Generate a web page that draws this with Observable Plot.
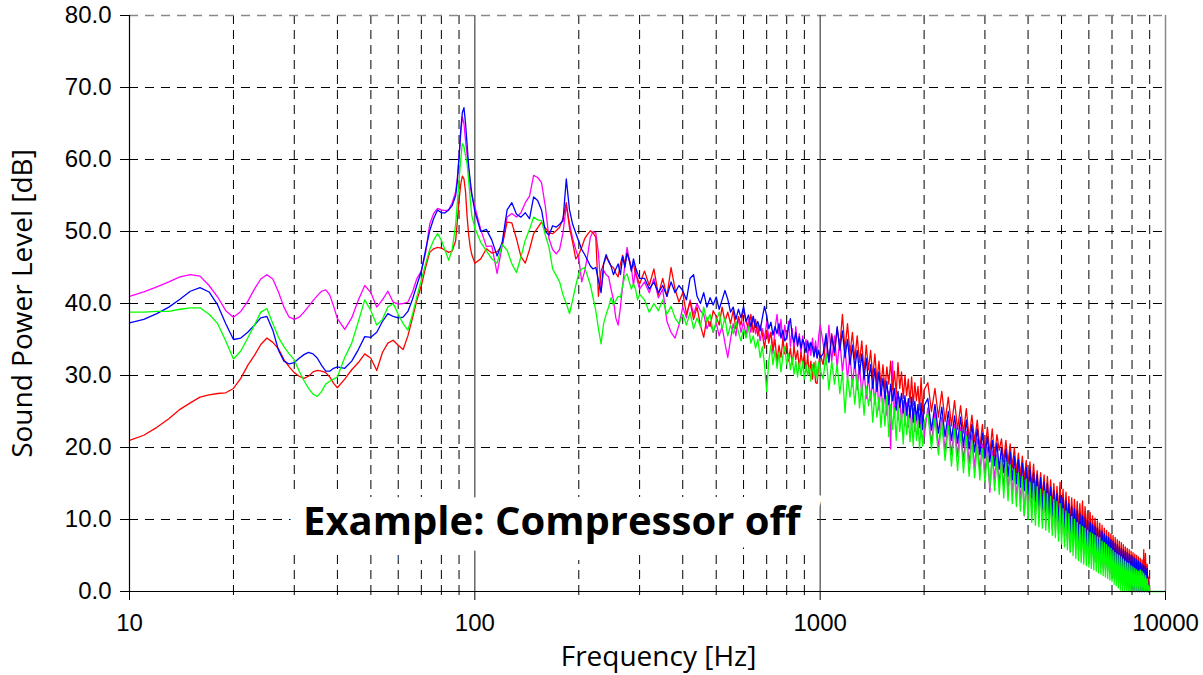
<!DOCTYPE html>
<html><head><meta charset="utf-8">
<script src="https://cdn.jsdelivr.net/npm/d3@7"></script>
<script src="https://cdn.jsdelivr.net/npm/@observablehq/plot@0.6"></script>
<style>body{margin:0;background:#fff;} svg{display:block;}</style>
</head><body><div id="chart"></div>
<script>
// ---- frequency grid (Hz) ----
const freqA = [10,11,12,13,14,15,16,17,18,19,20,21,22,23,24,25,26,27,28,29,30,31,32,33,34,35,36,37,38,39,40,42,44,46,48,50,52,54,56,58,60,62,64,66,68,70,72,74,76,78,80,82,84,86,88,89,90,91,92,93,94,95,96,97,98,100];
const freqB = [104,108,112,116,120,124,128,132,136,140,144,148,152,156,160,164,168,172,176,180,184,188,192,196,200,204,208,212,216,220,224,228,232,236,240,244,248,252,256,260,264,268,272,276,280,284,288,292,296,300];
const freqC = [310,320,330,340,350,360,370,380,390,400,410,420,430,440,450,460,470,480,490,500,510,520,530,540,550,560,570,580,590,600,610,620,630,640,650,660,670,680,690,700,710,720,730,740,750,760,770,780,790,800,810,820,830,840,850,860,870,880,890,900,910,920,930,940,950,960,970,980,990,1000];
const freqD = [1020,1040,1060,1080,1100,1120,1140,1160,1180,1200,1220,1240,1260,1280,1300,1320,1340,1360,1380,1400,1420,1440,1460,1480,1500,1520,1540,1560,1580,1600,1620,1640,1660,1680,1700,1720,1740,1760,1780,1800,1820,1840,1860,1880,1900,1920,1940,1960,1980,2000];
const freqE = [2050,2100,2150,2200,2250,2300,2350,2400,2450,2500,2550,2600,2650,2700,2750,2800,2850,2900,2950,3000,3050,3100,3150,3200,3250,3300,3350,3400,3450,3500,3550,3600,3650,3700,3750,3800,3850,3900,3950,4000,4050,4100,4150,4200,4250,4300,4350,4400,4450,4500,4550,4600,4650,4700,4750,4800,4850,4900,4950,5000,5050,5100,5150,5200,5250,5300,5350,5400,5450,5500,5550,5600,5650,5700,5750,5800,5850,5900,5950,6000,6050,6100,6150,6200,6250,6300,6350,6400,6450,6500,6550,6600,6650,6700,6750,6800,6850,6900,6950,7000,7050,7100,7150,7200,7250,7300,7350,7400,7450,7500,7550,7600,7650,7700,7750,7800,7850,7900,7950,8000,8050,8100,8150,8200,8250,8300,8350,8400,8450,8500,8550,8600,8650,8700,8750,8800,8850,8900,8950,9000];
const freqTail = [9300,9600,9900];

// ---- magenta series (dB) ----
const magentaA = [41.0,41.6,42.3,43.0,43.7,44.0,43.8,42.5,40.9,39.0,38.1,38.9,40.3,42.0,43.4,44.0,43.4,41.6,39.5,38.1,37.8,38.1,38.8,39.6,40.4,41.1,41.7,41.9,41.2,39.6,37.9,36.4,38.0,40.5,42.5,41.5,39.5,40.5,41.7,40.2,39.9,40.0,40.2,41.6,43.5,44.5,47.0,51.0,52.5,53.2,53.0,52.9,53.0,54.0,55.5,57.5,60.3,63.5,65.9,65.0,62.6,60.5,58.5,56.2,55.0,53.4];
const magentaB = [50.3,47.9,48.0,44.2,48.0,52.0,52.5,52.0,52.6,54.0,54.9,57.8,57.5,56.8,53.5,49.0,47.5,46.9,47.5,49.8,53.6,51.1,49.0,47.5,46.2,43.0,44.5,46.6,49.2,50.0,49.8,47.0,41.8,44.6,44.0,43.7,42.0,40.5,38.0,37.0,39.5,42.5,45.5,47.8,46.0,45.0,42.5,44.8,43.0,42.0];
const magentaC = [43.0,41.5,43.5,40.8,42.0,37.5,36.0,35.2,37.0,39.5,38.0,40.5,38.5,40.0,39.0,38.5,36.5,37.5,36.0,37.3,35.5,36.8,34.5,32.5,35.0,37.2,35.5,38.0,36.0,37.5,35.5,37.8,36.0,38.2,35.8,37.0,34.8,36.5,35.0,37.5,35.2,36.0,33.0,36.5,38.5,35.5,37.8,34.5,37.0,35.0,37.5,34.0,36.5,33.5,36.8,34.0,35.8,33.0,35.5,33.8,35.0,32.5,34.5,32.8,35.2,33.0,34.8,32.5,35.5,37.0];
const magentaD = [34.5,31.5,37.0,32.0,35.5,31.2,35.0,30.5,33.8,29.5,33.0,28.5,32.0,28.0,31.5,27.2,30.8,26.8,30.0,26.5,29.5,26.0,29.8,25.2,28.8,24.8,28.0,24.5,27.8,19.8,32.0,24.2,27.5,23.8,27.0,23.5,26.5,23.0,26.2,22.8,25.8,22.5,25.5,22.2,25.0,21.8,24.5,21.5,24.8,21.5];
const magentaE = [25.5,20.5,25.0,20.0,24.2,19.5,23.8,19.0,23.2,18.8, 22.8,18.2,22.2,17.8,21.8,17.2,21.2,16.8,20.5,16.5, 20.0,13.8,19.5,15.5,19.0,15.0,18.5,14.5,18.2,14.0, 18.0,13.5,17.4,13.0,16.8,12.5,16.2,10.5,15.8,11.5, 15.5,11.0,15.2,10.5,14.8,10.2,14.5,9.8,14.2,9.5, 13.8,9.0,13.5,8.8,13.0,8.5,12.8,8.0,12.5,7.8, 12.0,7.5,11.8,7.0,11.4,5.5,11.0,6.5,10.8,6.2, 10.5,5.8,10.2,5.5,9.8,5.2,9.5,5.0,9.2,4.8, 9.0,4.5,8.7,4.2,8.4,4.0,8.2,3.8,8.0,3.5, 7.8,3.2,7.5,3.0,7.2,2.8,7.0,2.5,6.8,2.2, 6.5,2.0,6.2,1.8,6.0,1.5,5.8,1.2,5.5,1.0, 5.2,0.8,5.0,0.5,4.8,0.2,4.5,0,4.2,0, 4.0,0,3.8,0,3.6,0,3.4,0,3.2,0, 3.0,0,2.8,0,2.5,0,2.0,0,0,0];
const magentaTail = [null,null,null];

// ---- red series (dB) ----
const redA = [21.0,21.7,22.8,24.0,25.3,26.2,27.0,27.3,27.5,27.6,28.2,29.6,31.4,32.8,34.3,35.2,34.6,33.7,32.2,31.2,30.4,29.9,29.6,29.9,30.5,30.7,30.6,30.4,29.8,28.9,28.3,29.5,30.8,31.8,33.0,32.4,30.7,33.2,34.5,34.9,34.2,33.6,35.5,38.0,40.5,42.5,45.0,47.1,47.6,47.8,47.7,47.4,47.1,47.3,48.7,51.5,54.3,56.5,57.7,57.3,55.5,52.0,49.5,47.8,46.8,45.6];
const redB = [46.2,47.6,47.0,47.2,48.0,51.3,51.2,49.0,46.5,45.6,47.5,49.7,50.5,51.3,50.5,49.8,49.7,50.1,50.6,51.8,54.0,50.5,48.5,46.2,46.8,47.8,49.0,49.6,50.1,49.8,49.2,41.0,44.5,45.5,46.4,46.0,45.2,45.0,44.2,43.7,45.5,46.7,45.5,47.0,46.2,44.8,45.5,44.0,43.5,42.7];
const redC = [44.5,42.5,44.8,41.2,43.5,41.0,45.0,42.0,40.2,41.5,38.5,40.3,37.8,39.5,37.0,35.3,38.0,36.8,39.0,38.2,37.0,39.5,37.5,38.8,37.2,39.0,36.5,38.2,37.0,39.2,37.5,36.5,38.5,36.0,37.8,35.5,37.0,35.8,33.8,36.2,34.5,36.0,33.5,35.0,31.8,34.2,32.5,35.0,33.0,34.5,32.0,33.8,31.5,34.0,32.2,33.5,31.0,33.2,31.5,33.0,30.5,32.8,30.2,32.0,29.5,31.8,29.0,28.9,31.5,33.0];
const redD = [31.5,35.2,32.0,35.8,32.8,36.5,34.0,38.5,33.5,37.2,33.0,36.0,32.2,35.5,31.8,34.8,30.5,34.2,30.8,33.5,29.6,33.0,29.2,32.0,28.6,31.5,28.0,31.2,28.8,32.0,28.0,30.6,27.5,31.8,28.2,30.5,26.8,30.0,27.2,29.5,26.2,29.8,25.8,29.0,26.5,28.5,25.2,29.7,25.0,28.0];
const redE = [29.0,25.0,28.2,24.2,27.8,23.6,27.0,23.0,26.5,22.5, 25.8,22.0,25.4,21.2,24.5,20.8,23.8,20.0,23.2,19.5, 22.8,19.2,22.6,18.8,21.8,19.6,21.2,18.0,21.0,17.8, 20.5,17.2,20.0,16.5,19.2,16.0,18.8,15.5,18.2,15.0, 18.0,14.5,17.7,14.0,16.8,13.5,16.5,13.0,16.2,12.5, 16.0,12.2,15.5,11.8,15.0,11.2,14.6,10.8,15.2,10.5, 14.2,10.2,13.8,9.8,13.2,9.5,13.0,9.2,12.8,9.0, 12.5,8.8,12.2,8.5,12.6,8.2,11.8,8.0,11.2,7.8, 11.0,7.5,10.5,7.2,10.2,6.8,9.8,6.5,9.5,6.0, 9.2,5.8,8.8,5.5,8.5,5.0,8.2,4.8,8.0,4.5, 7.8,4.2,7.5,3.8,7.2,3.5,7.0,3.2,6.8,3.0, 6.5,2.8,6.2,2.5,6.0,2.2,5.8,2.0,5.6,1.8, 5.4,1.6,5.2,1.4,5.0,1.2,4.8,1.0,4.6,0.8, 4.4,0.6,5.8,0.4,5.3,0.2,3.8,0,2.0,0];
const redTail = [null,null,null];

// ---- blue series (dB) ----
const blueA = [37.3,37.8,38.6,39.5,40.6,41.7,42.2,41.6,39.8,37.2,35.0,35.2,36.0,37.0,38.0,38.2,36.3,33.5,32.0,31.6,31.8,32.4,32.9,33.2,33.0,32.4,31.4,30.6,30.6,31.0,31.2,31.0,32.0,33.6,35.4,35.3,36.0,37.5,38.6,38.2,38.0,38.1,38.9,40.6,42.6,44.5,47.4,50.1,51.8,53.0,52.6,52.6,53.0,53.6,55.0,57.0,60.3,64.0,66.5,67.2,65.0,62.0,59.0,57.0,55.3,52.8];
const blueB = [50.0,50.3,48.8,46.6,48.5,53.0,54.0,52.4,52.0,52.6,51.8,54.8,54.3,53.0,50.0,49.5,50.8,50.6,51.0,51.5,57.3,53.0,51.0,49.8,48.6,47.5,46.8,46.0,45.2,44.8,45.0,43.2,41.5,45.5,46.8,45.8,45.2,44.0,44.8,45.5,44.0,46.5,45.0,47.0,46.0,44.5,46.2,45.0,44.2,43.5];
const blueC = [43.5,42.0,43.0,41.5,42.5,41.0,43.0,41.5,42.5,41.8,40.5,43.5,44.0,41.0,40.0,41.5,39.5,40.8,39.8,40.9,39.2,40.5,41.8,40.6,38.8,39.5,37.8,39.2,38.0,39.6,37.5,38.4,36.8,38.2,36.7,37.5,36.2,38.0,39.6,38.3,36.5,37.4,35.6,36.8,35.8,37.2,35.2,36.3,34.8,35.3,36.8,37.9,35.5,34.6,36.0,34.2,35.4,33.8,35.0,34.4,33.2,34.8,33.5,34.6,33.9,32.6,34.0,32.4,33.5,32.5];
const blueD = [33.0,35.8,31.8,35.5,33.2,36.8,33.5,36.2,32.5,35.0,31.5,34.2,31.0,33.5,30.2,33.0,29.5,32.4,29.0,31.5,28.2,31.0,27.8,30.5,27.2,29.6,26.8,29.2,26.0,28.8,26.5,28.2,25.2,27.8,25.6,27.5,24.8,27.2,24.5,26.8,24.2,27.0,23.5,26.4,23.8,26.0,22.8,26.2,22.5,25.8];
const blueE = [26.8,22.4,26.0,22.0,25.6,21.5,25.0,21.0,24.4,20.6, 24.2,20.2,23.8,19.8,23.2,19.4,22.6,19.0,22.0,18.6, 21.5,18.0,21.0,17.5,20.6,17.0,20.0,16.5,19.8,16.0, 19.4,15.5,18.8,15.0,18.3,14.5,17.8,14.0,17.2,13.5, 17.0,13.0,16.5,12.5,16.2,12.0,15.8,11.5,15.2,11.2, 15.0,10.8,14.5,10.5,14.0,10.2,13.6,9.8,13.3,9.5, 13.0,9.0,12.6,8.6,12.2,8.2,11.8,7.8,11.5,7.4, 11.2,7.0,10.8,6.7,10.5,6.4,10.2,6.1,9.9,5.8, 9.6,5.5,9.3,5.2,9.0,5.0,8.8,4.8,8.5,4.5, 8.3,4.2,8.0,3.9,7.7,3.6,7.5,3.3,7.2,3.0, 7.0,2.8,6.7,2.5,6.5,2.2,6.2,2.0,6.0,1.6, 5.8,1.3,5.6,1.0,5.4,0.8,5.2,0.6,5.0,0.4, 4.8,0.2,4.6,0,4.4,0,4.2,0,4.0,0, 3.8,0,3.6,0,3.5,0,3.2,0,0,0];
const blueTail = [null,null,null];

// ---- green series (dB) ----
const greenA = [38.8,38.8,38.9,38.9,39.2,39.4,39.4,38.5,37.2,34.8,32.3,33.4,35.2,37.0,38.8,39.3,37.2,35.3,34.0,33.0,32.2,30.6,29.3,28.2,27.4,27.1,27.8,28.8,29.2,29.5,29.8,32.5,34.5,37.5,40.5,39.0,37.0,37.8,39.5,40.0,38.5,37.2,36.3,38.5,41.0,43.3,45.5,47.5,48.8,49.7,48.8,47.4,46.0,47.5,51.0,54.0,57.0,60.0,62.2,61.8,60.5,59.4,57.0,54.5,52.2,50.5];
const greenB = [48.5,47.3,46.2,45.6,48.2,47.4,45.5,44.3,46.5,48.8,50.3,52.0,51.6,51.5,49.5,47.8,44.8,43.9,43.0,41.2,40.0,38.6,40.5,42.5,44.2,44.8,45.0,43.8,42.6,40.8,39.0,36.5,34.4,37.2,38.5,39.5,40.8,39.8,40.4,41.0,40.9,42.5,43.8,44.1,43.0,42.0,42.7,42.0,40.5,41.3];
const greenC = [40.5,38.8,40.0,39.0,40.5,38.5,39.6,38.0,37.2,38.5,37.0,38.8,36.5,38.0,36.8,39.5,37.5,38.5,36.0,37.5,38.8,36.5,38.0,35.5,37.0,35.8,37.5,36.0,34.8,36.5,35.2,36.8,34.5,35.5,33.8,35.0,32.5,34.0,31.5,27.8,32.0,34.2,31.5,33.5,31.0,33.2,30.5,32.8,34.0,31.5,33.0,30.8,32.5,30.2,32.0,29.8,31.8,30.0,32.0,29.5,31.5,30.0,31.2,29.2,31.5,30.0,32.0,29.5,31.8,30.8];
const greenD = [29.5,33.0,28.0,32.0,28.8,31.5,27.5,30.5,24.8,30.0,27.0,29.5,26.0,30.2,25.5,28.8,24.5,28.5,25.8,27.8,23.5,27.5,24.2,27.0,22.8,26.8,23.0,27.2,21.5,26.0,22.5,25.5,21.0,25.8,22.2,24.8,20.5,25.0,21.8,24.5,20.8,24.0,20.2,24.5,21.0,23.8,19.8,23.2,20.2,23.5];
const greenE = [24.8,19.8,24.0,19.0,23.5,18.2,23.0,17.4,22.6,16.8, 22.2,16.5,21.6,16.0,21.0,15.8,20.4,15.5,19.8,15.2, 19.2,14.5,18.8,14.0,18.6,13.5,18.4,13.0,18.0,12.6, 17.6,12.2,17.0,11.8,16.5,11.2,16.0,10.6,15.6,10.0, 15.2,9.6,15.0,9.2,14.6,9.0,14.2,8.8,14.0,8.5, 13.6,8.2,13.2,7.8,12.8,7.5,12.5,7.0,12.2,6.6, 11.5,6.2,11.2,5.8,10.8,5.5,10.4,5.0,10.0,4.6, 9.6,4.3,9.3,4.0,9.0,3.8,8.8,3.6,8.5,3.4, 8.2,3.2,8.0,3.0,7.8,2.8,7.6,2.6,7.5,2.4, 7.0,2.2,6.8,2.0,6.5,1.8,6.2,1.6,6.0,1.4, 5.7,1.0,5.4,0.8,5.2,0.5,5.0,0.2,4.8,0, 4.5,0,4.2,0,4.0,0,3.9,0,3.6,0, 3.4,0,3.2,0,3.0,0,2.8,0,3.0,0, 2.8,0,2.5,0,2.2,0,1.8,0,0.8,0];
const greenTail = [0,0,0];

// ---- axes / labels ----
const yTicks = [0,10,20,30,40,50,60,70,80];
const yGrid = [10,20,30,40,50,60,70];
const yTop = [80];
const xMajor = [10,100,1000,10000];
const xDashed = [20,30,40,50,60,70,80,90,200,300,400,500,600,700,800,900,2000,3000,4000,5000,6000,7000,8000,9000];
const xSolid = [100,1000];
const xRight = [10000];
const xLeft = [10];
const xLabel = "Frequency [Hz]";
const yLabel = "Sound Power Level [dB]";
const noteText = "Example: Compressor off";
const noteFreq = 167;
const noteLevel = 9.6;

const freq = [...freqA, ...freqB, ...freqC, ...freqD, ...freqE, ...freqTail];
const series = [
  {color: "#ff00ff", values: [...magentaA, ...magentaB, ...magentaC, ...magentaD, ...magentaE, ...magentaTail]},
  {color: "#ff0000", values: [...redA, ...redB, ...redC, ...redD, ...redE, ...redTail]},
  {color: "#0000ff", values: [...blueA, ...blueB, ...blueC, ...blueD, ...blueE, ...blueTail]},
  {color: "#00ff00", values: [...greenA, ...greenB, ...greenC, ...greenD, ...greenE, ...greenTail]}
];

const tickFont = "Liberation Sans, Arial, sans-serif";
const labelFont = "Open Sans, Noto Sans, sans-serif";

const chart = Plot.plot({
  width: 1203, height: 675,
  marginLeft: 129, marginRight: 38, marginTop: 15, marginBottom: 84,
  x: {type: "log", domain: [10, 10000], axis: null},
  y: {domain: [0, 80], axis: null},
  style: {background: "white", overflow: "visible", color: "black"},
  marks: [
    Plot.ruleX(xDashed, {stroke: "black", strokeDasharray: "9,6", strokeWidth: 1}),
    Plot.ruleY(yGrid, {stroke: "black", strokeDasharray: "9,7", strokeWidth: 1}),
    Plot.ruleY(yTop, {stroke: "#888", strokeDasharray: "9,7", strokeWidth: 1.5}),
    Plot.ruleX(xSolid, {stroke: "#444", strokeWidth: 1.2}),
    Plot.ruleX(xRight, {stroke: "#888", strokeWidth: 1.5}),
    Plot.text([noteText], {x: noteFreq, y: noteLevel, text: d => d, fontSize: 40, fontWeight: "bold",
      fontFamily: labelFont, fill: "black", stroke: "white", strokeWidth: 32, strokeLinejoin: "miter",
      paintOrder: "stroke", textAnchor: "middle", lineAnchor: "middle"}),
    ...series.map(s => Plot.line(freq, {x: freq, y: s.values, stroke: s.color, strokeWidth: 1.3})),
    Plot.ruleX(xLeft, {stroke: "black", strokeWidth: 1.2}),
    Plot.ruleY([0], {stroke: "black", strokeWidth: 1.2}),
    Plot.axisY(yTicks, {tickSize: 9, tickPadding: 9, tickFormat: d => d.toFixed(1), fontSize: 24, fontFamily: tickFont}),
    Plot.axisX(xMajor, {tickSize: 9, tickPadding: 13, tickFormat: d => String(d), fontSize: 24, fontFamily: tickFont}),
    Plot.axisX(xDashed, {tickSize: 4, tickFormat: () => ""}),
    Plot.text([xLabel], {frameAnchor: "bottom", dx: 11, dy: 66, text: d => d, fontSize: 28, fontFamily: labelFont, textAnchor: "middle", lineAnchor: "middle", fill: "black"}),
    Plot.text([yLabel], {frameAnchor: "left", dx: -106, rotate: -90, text: d => d, fontSize: 28, fontFamily: labelFont, textAnchor: "middle", lineAnchor: "middle", fill: "black"})
  ]
});
document.getElementById("chart").append(chart);
</script>
</body></html>
